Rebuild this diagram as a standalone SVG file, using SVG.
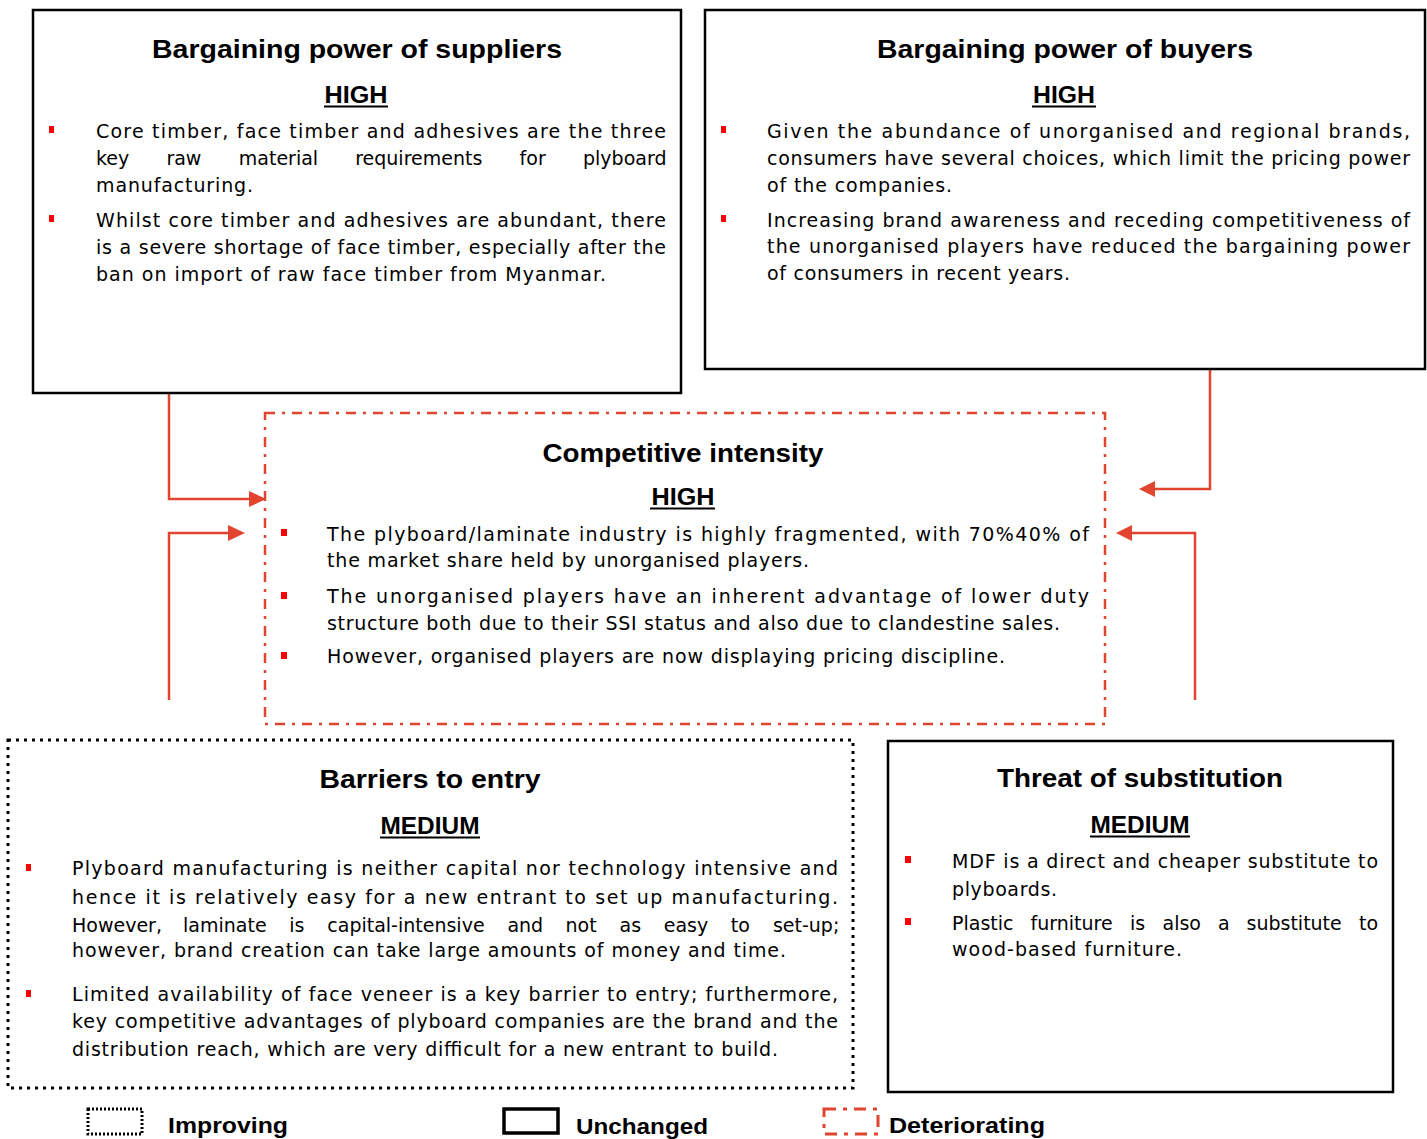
<svg xmlns="http://www.w3.org/2000/svg" width="1427" height="1139" viewBox="0 0 1427 1139">
<defs>
<style>
.box{fill:#fff;stroke:#000;stroke-width:2.5}
.dotted{fill:#fff;stroke:#000;stroke-width:3;stroke-dasharray:3 5}
.dashdot{fill:none;stroke:#E2452F;stroke-width:2.5;stroke-dasharray:10 7 3 7}
.title{font-family:"Liberation Sans",Arial,sans-serif;font-weight:bold;font-size:26px;fill:#000;text-anchor:middle}
.lvl{font-family:"Liberation Sans",Arial,sans-serif;font-weight:bold;font-size:23px;fill:#000;text-anchor:middle}
.body{font-family:"DejaVu Sans","Liberation Sans",sans-serif;font-size:19px;fill:#000}
.bul{fill:#FF0000}
.ul{stroke:#000;stroke-width:2}
.conn{fill:none;stroke:#E2452F;stroke-width:2.5}
.head{fill:#E2452F}
.leg{font-family:"Liberation Sans",Arial,sans-serif;font-weight:bold;font-size:22px;fill:#000}
</style>
</defs>

<g id="connectors">
<path class="conn" d="M169,393 V499 H251"/>
<polygon class="head" points="266,499 249,491 249,507"/>
<path class="conn" d="M169,700 V533 H230"/>
<polygon class="head" points="245,533 228,525 228,541"/>
<path class="conn" d="M1210,369 V489 H1153"/>
<polygon class="head" points="1139,489 1155,481 1155,497"/>
<path class="conn" d="M1195,700 V533 H1130"/>
<polygon class="head" points="1116,533 1132,525 1132,541"/>
</g>

<g id="suppliers">
<rect class="box" x="33" y="10" width="648" height="383"/>
<text class="title" x="357" y="58" textLength="410" lengthAdjust="spacingAndGlyphs">Bargaining power of suppliers</text>
<text class="lvl" x="356" y="103" textLength="63" lengthAdjust="spacingAndGlyphs">HIGH</text>
<line class="ul" x1="324" y1="106.5" x2="388" y2="106.5"/>
<rect class="bul" x="49" y="126" width="5" height="7"/>
<rect class="bul" x="49" y="215" width="5" height="7"/>
<text class="body" x="96" y="138" textLength="570" lengthAdjust="spacing">Core timber, face timber and adhesives are the three</text>
<text class="body" y="165"><tspan x="96">key</tspan> <tspan x="166.4">raw</tspan> <tspan x="238.8">material</tspan> <tspan x="355.2">requirements</tspan> <tspan x="519.6">for</tspan> <tspan x="583">plyboard</tspan></text>
<text class="body" x="96" y="192" textLength="157" lengthAdjust="spacing">manufacturing.</text>
<text class="body" x="96" y="227" textLength="570" lengthAdjust="spacing">Whilst core timber and adhesives are abundant, there</text>
<text class="body" x="96" y="254" textLength="570" lengthAdjust="spacing">is a severe shortage of face timber, especially after the</text>
<text class="body" x="96" y="281" textLength="510" lengthAdjust="spacing">ban on import of raw face timber from Myanmar.</text>
</g>

<g id="buyers">
<rect class="box" x="705" y="10" width="720" height="359"/>
<text class="title" x="1065" y="58" textLength="376" lengthAdjust="spacingAndGlyphs">Bargaining power of buyers</text>
<text class="lvl" x="1064" y="103" textLength="62" lengthAdjust="spacingAndGlyphs">HIGH</text>
<line class="ul" x1="1032" y1="106.5" x2="1096" y2="106.5"/>
<rect class="bul" x="721" y="126" width="5" height="7"/>
<rect class="bul" x="721" y="215" width="5" height="7"/>
<text class="body" x="767" y="138" textLength="643" lengthAdjust="spacing">Given the abundance of unorganised and regional brands,</text>
<text class="body" x="767" y="165" textLength="643" lengthAdjust="spacing">consumers have several choices, which limit the pricing power</text>
<text class="body" x="767" y="192" textLength="185" lengthAdjust="spacing">of the companies.</text>
<text class="body" x="767" y="227" textLength="643" lengthAdjust="spacing">Increasing brand awareness and receding competitiveness of</text>
<text class="body" x="767" y="253" textLength="643" lengthAdjust="spacing">the unorganised players have reduced the bargaining power</text>
<text class="body" x="767" y="280" textLength="303" lengthAdjust="spacing">of consumers in recent years.</text>
</g>

<g id="competitive">
<rect class="dashdot" x="265" y="413" width="840" height="311"/>
<text class="title" x="683" y="462" textLength="281" lengthAdjust="spacingAndGlyphs">Competitive intensity</text>
<text class="lvl" x="683" y="505" textLength="63" lengthAdjust="spacingAndGlyphs">HIGH</text>
<line class="ul" x1="650" y1="508.5" x2="715" y2="508.5"/>
<rect class="bul" x="281" y="529" width="6" height="7"/>
<rect class="bul" x="281" y="592" width="6" height="7"/>
<rect class="bul" x="281" y="652" width="6" height="7"/>
<text class="body" x="327" y="541" textLength="762" lengthAdjust="spacing">The plyboard/laminate industry is highly fragmented, with 70%40% of</text>
<text class="body" x="327" y="567" textLength="482" lengthAdjust="spacing">the market share held by unorganised players.</text>
<text class="body" x="327" y="603" textLength="762" lengthAdjust="spacing">The unorganised players have an inherent advantage of lower duty</text>
<text class="body" x="327" y="630" textLength="733" lengthAdjust="spacing">structure both due to their SSI status and also due to clandestine sales.</text>
<text class="body" x="327" y="663" textLength="678" lengthAdjust="spacing">However, organised players are now displaying pricing discipline.</text>
</g>

<g id="barriers">
<rect class="dotted" x="8" y="740" width="845" height="348"/>
<text class="title" x="430" y="788" textLength="221" lengthAdjust="spacingAndGlyphs">Barriers to entry</text>
<text class="lvl" x="430" y="834" textLength="99" lengthAdjust="spacingAndGlyphs">MEDIUM</text>
<line class="ul" x1="380" y1="837.5" x2="480" y2="837.5"/>
<rect class="bul" x="26" y="864" width="5" height="7"/>
<rect class="bul" x="26" y="990" width="5" height="7"/>
<text class="body" x="72" y="875" textLength="766" lengthAdjust="spacing">Plyboard manufacturing is neither capital nor technology intensive and</text>
<text class="body" x="72" y="904" textLength="766" lengthAdjust="spacing">hence it is relatively easy for a new entrant to set up manufacturing.</text>
<text class="body" y="932"><tspan x="72">However,</tspan> <tspan x="183.1">laminate</tspan> <tspan x="289.2">is</tspan> <tspan x="327.3">capital-intensive</tspan> <tspan x="507.4">and</tspan> <tspan x="565.5">not</tspan> <tspan x="619.6">as</tspan> <tspan x="663.7">easy</tspan> <tspan x="730.8">to</tspan> <tspan x="772.9">set-up;</tspan></text>
<text class="body" x="72" y="957" textLength="714" lengthAdjust="spacing">however, brand creation can take large amounts of money and time.</text>
<text class="body" x="72" y="1001" textLength="766" lengthAdjust="spacing">Limited availability of face veneer is a key barrier to entry; furthermore,</text>
<text class="body" x="72" y="1028" textLength="766" lengthAdjust="spacing">key competitive advantages of plyboard companies are the brand and the</text>
<text class="body" x="72" y="1056" textLength="706" lengthAdjust="spacing">distribution reach, which are very difficult for a new entrant to build.</text>
</g>

<g id="substitution">
<rect class="box" x="888" y="741" width="505" height="351"/>
<text class="title" x="1140" y="787" textLength="286" lengthAdjust="spacingAndGlyphs">Threat of substitution</text>
<text class="lvl" x="1140" y="833" textLength="99" lengthAdjust="spacingAndGlyphs">MEDIUM</text>
<line class="ul" x1="1090" y1="836.5" x2="1190" y2="836.5"/>
<rect class="bul" x="905" y="856" width="6" height="7"/>
<rect class="bul" x="905" y="918" width="6" height="7"/>
<text class="body" x="952" y="868" textLength="426" lengthAdjust="spacing">MDF is a direct and cheaper substitute to</text>
<text class="body" x="952" y="896" textLength="105" lengthAdjust="spacing">plyboards.</text>
<text class="body" y="930"><tspan x="952">Plastic</tspan> <tspan x="1030.5">furniture</tspan> <tspan x="1130">is</tspan> <tspan x="1162.5">also</tspan> <tspan x="1218">a</tspan> <tspan x="1246.5">substitute</tspan> <tspan x="1359">to</tspan></text>
<text class="body" x="952" y="956" textLength="230" lengthAdjust="spacing">wood-based furniture.</text>
</g>

<g id="legend">
<rect x="88" y="1109" width="54" height="25" fill="none" stroke="#000" stroke-width="3" stroke-dasharray="2 2"/>
<text class="leg" x="168" y="1133" textLength="120" lengthAdjust="spacingAndGlyphs">Improving</text>
<rect x="504" y="1109" width="54" height="24" fill="none" stroke="#000" stroke-width="3.5"/>
<text class="leg" x="576" y="1134" textLength="132" lengthAdjust="spacingAndGlyphs">Unchanged</text>
<rect x="824" y="1109" width="54" height="25" fill="none" stroke="#E2452F" stroke-width="3" stroke-dasharray="12 7 4 7"/>
<text class="leg" x="889" y="1133" textLength="156" lengthAdjust="spacingAndGlyphs">Deteriorating</text>
</g>
</svg>
